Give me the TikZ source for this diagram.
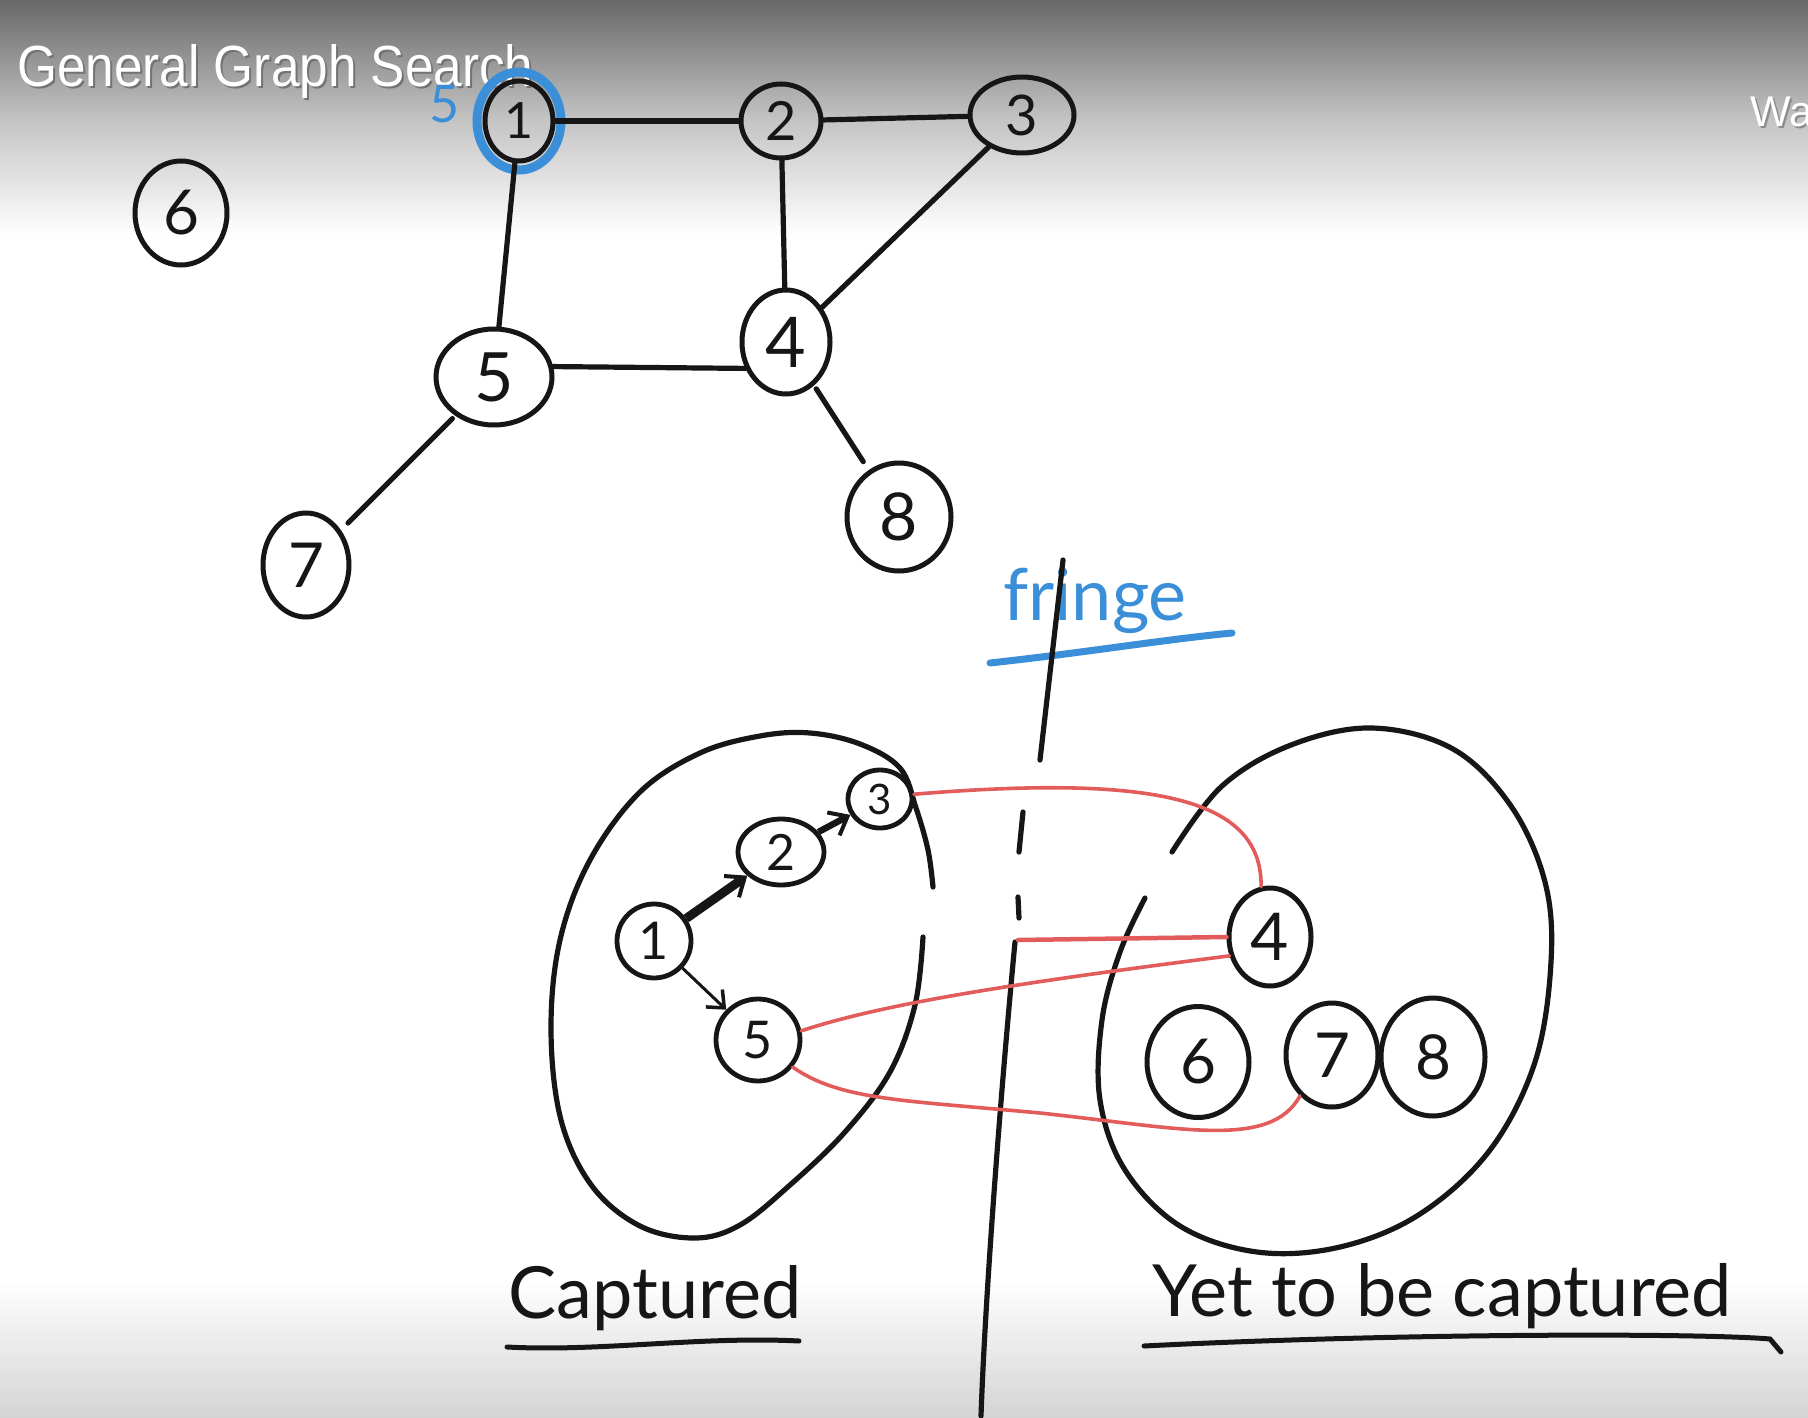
\documentclass[tikz,border=0pt]{standalone}
\usepackage{fontspec}
\setmainfont{Liberation Sans}
\newfontfamily\hand{Lato}
\usetikzlibrary{shapes.geometric,arrows.meta}
\definecolor{pen}{RGB}{22,22,22}
\definecolor{bluepen}{RGB}{58,143,216}
\definecolor{redpen}{RGB}{226,92,92}
\definecolor{topgray}{RGB}{104,104,104}
\definecolor{midgray}{RGB}{196,196,196}
\definecolor{botgray}{RGB}{212,212,212}
\tikzset{
  gnode/.style={ellipse, draw=pen, line width=5pt, inner sep=0pt, text=pen,
                font=\hand\fontsize{62}{62}\selectfont},
  snode/.style={ellipse, draw=pen, line width=4.8pt, inner sep=0pt, text=pen,
                font=\hand\fontsize{52}{52}\selectfont},
  gedge/.style={draw=pen, line width=5.2pt, line cap=round},
  rededge/.style={draw=redpen, line width=3.6pt, line cap=round},
  blob/.style={draw=pen, line width=5.2pt, line cap=round, line join=round},
  handtext/.style={font=\hand\fontsize{72}{72}\selectfont, text=pen, inner sep=0pt},
  titletext/.style={font=\fontsize{58}{58}\selectfont, inner sep=0pt},
  barb/.style={-{Straight Barb[length=16pt,width=26pt,line width=4pt]}},
}
\begin{document}
\begin{tikzpicture}[x=1pt,y=-1pt]
\useasboundingbox (0,0) rectangle (1808,1418);
% background
\fill[white] (0,0) rectangle (1808,1418);
\shade[top color=topgray, bottom color=midgray] (0,0) rectangle (1808,120);
\shade[top color=midgray, bottom color=white] (0,119.5) rectangle (1808,235);
\shade[top color=white, bottom color=botgray] (0,1280) rectangle (1808,1418);

% title overlay
\node[titletext, text=black!55, anchor=base west] (titleshadow) at (19,89) {\scalebox{0.885}[1]{General Graph Search}};
\node[titletext, text=white, anchor=base west] (title) at (17,87) {\scalebox{0.885}[1]{General Graph Search}};
\node[font=\fontsize{43}{43}\selectfont, inner sep=0pt, text=black!45, anchor=base west] (watshadow) at (1752,129) {Wat};
\node[font=\fontsize{43}{43}\selectfont, inner sep=0pt, text=white, anchor=base west] (wat) at (1750,127) {Wat};

% ---------------- top graph ----------------
\node[ellipse, draw=bluepen, line width=9pt, minimum width=84pt, minimum height=98pt] (ring) at (519,121) {};
\node[gnode, minimum width=68pt, minimum height=80pt, font=\hand\fontsize{50}{50}\selectfont] (t1) at (519,121) {1};
\node[gnode, minimum width=80pt, minimum height=74pt, font=\hand\fontsize{54}{54}\selectfont] (t2) at (781,121) {2};
\node[gnode, minimum width=104pt, minimum height=76pt, font=\hand\fontsize{56}{56}\selectfont] (t3) at (1022,115) {3};
\node[gnode, minimum width=92pt, minimum height=104pt] (t6) at (181,213) {6};
\node[gnode, minimum width=88pt, minimum height=104pt, font=\hand\fontsize{70}{70}\selectfont] (t4) at (786,342) {4};
\node[gnode, minimum width=116pt, minimum height=96pt, font=\hand\fontsize{68}{68}\selectfont] (t5) at (494,377) {5};
\node[gnode, minimum width=86pt, minimum height=104pt] (t7) at (306,565) {7};
\node[gnode, minimum width=104pt, minimum height=108pt, font=\hand\fontsize{66}{66}\selectfont] (t8) at (899,517) {8};
\node[font=\hand\fontsize{52}{52}\selectfont, text=bluepen, inner sep=0pt] (s) at (445,104) {5};

\draw[gedge] (t1) -- (t2);
\draw[gedge] (t2) -- (t3);
\draw[gedge] (t1) -- (t5);
\draw[gedge] (t2) -- (t4);
\draw[gedge] (t3) -- (t4);
\draw[gedge] (t5.10) -- (t4.213);
\draw[gedge, shorten <=4pt, shorten >=10pt] (t5) -- (t7);
\draw[gedge, shorten <=4pt, shorten >=10pt] (t4) -- (t8);

% ---------------- fringe divider ----------------
\node[font=\hand\fontsize{72}{72}\selectfont, text=bluepen, inner sep=0pt, anchor=base] (fringe) at (1095,620) {fringe};
\draw[draw=bluepen, line width=7pt, line cap=round] (990,663) .. controls (1090,652) and (1160,640) .. (1232,633);
\coordinate (dv1) at (1063,560);
\coordinate (dv2) at (1040,760);
\coordinate (dv3) at (1023,812);
\coordinate (dv4) at (1019,852);
\coordinate (dv5) at (1018,897);
\coordinate (dv6) at (1019,918);
\coordinate (dv7) at (1015,942);
\coordinate (dv8) at (981,1416);
\draw[gedge] (dv1) -- (dv2);
\draw[gedge] (dv3) -- (dv4);
\draw[gedge] (dv5) -- (dv6);
\draw[gedge] (dv7) .. controls (1000,1100) and (985,1300) .. (dv8);

% ---------------- blobs ----------------
\draw[blob] plot[smooth, tension=0.6] coordinates {(923,937) (915,1005) (890,1072) (845,1132) (790,1185) (740,1225) (695,1238) (640,1226) (592,1186) (561,1120) (551,1030) (560,940) (590,860) (640,792) (700,753) (760,736) (810,733) (860,744) (900,768) (916,808) (928,850) (933,887)};
\draw[blob] plot[smooth, tension=0.6] coordinates {(1172,852) (1222,786) (1291,745) (1372,728) (1453,749) (1511,806) (1545,882) (1551,962) (1535,1062) (1490,1150) (1420,1214) (1340,1247) (1257,1252) (1180,1226) (1125,1170) (1100,1100) (1102,1020) (1120,952) (1145,898)};

% ---------------- captured nodes ----------------
\node[snode, minimum width=74pt, minimum height=74pt] (b1) at (654,941) {1};
\node[snode, minimum width=86pt, minimum height=66pt, font=\hand\fontsize{50}{50}\selectfont] (b2) at (781,852) {2};
\node[snode, minimum width=64pt, minimum height=58pt, font=\hand\fontsize{42}{42}\selectfont] (b3) at (880,799) {3};
\node[snode, minimum width=84pt, minimum height=82pt] (b5) at (758,1040) {5};

\draw[draw=pen, line width=9pt, barb] (b1) -- (b2);
\draw[draw=pen, line width=6.5pt, barb] (b2) -- (b3);
\draw[draw=pen, line width=3pt, -{Straight Barb[length=14pt,width=24pt,line width=3.5pt]}] (b1) -- (b5);

% ---------------- yet-to-be-captured nodes ----------------
\node[gnode, minimum width=82pt, minimum height=98pt, font=\hand\fontsize{66}{66}\selectfont] (r4) at (1270,937) {4};
\node[gnode, minimum width=102pt, minimum height=111pt] (r6) at (1198,1062) {6};
\node[gnode, minimum width=92pt, minimum height=104pt] (r7) at (1332,1055) {7};
\node[gnode, minimum width=104pt, minimum height=118pt] (r8) at (1433,1057) {8};

% ---------------- red edges ----------------
\coordinate (fr) at (1018,940);
\draw[rededge] (b3.8) .. controls (1160,774) and (1262,800) .. (r4.100);
\draw[rededge, line width=4.5pt] (fr) -- (r4.west);
\draw[rededge] (b5.12) .. controls (880,1005) and (1000,985) .. (r4.205);
\draw[rededge] (b5.-38) .. controls (840,1100) and (900,1100) .. (1040,1113) .. controls (1180,1128) and (1270,1150) .. (r7.232);

% ---------------- labels ----------------
\node[handtext, anchor=base] (captured) at (655,1318) {Captured};
\draw[gedge, line width=5pt] (507,1347) .. controls (600,1352) and (700,1336) .. (799,1341);
\node[handtext, anchor=base] (yet) at (1442,1316) {Yet to be captured};
\draw[gedge, line width=5pt] (1144,1346) .. controls (1400,1333) and (1700,1333) .. (1770,1339) -- (1781,1352);
\end{tikzpicture}
\end{document}
